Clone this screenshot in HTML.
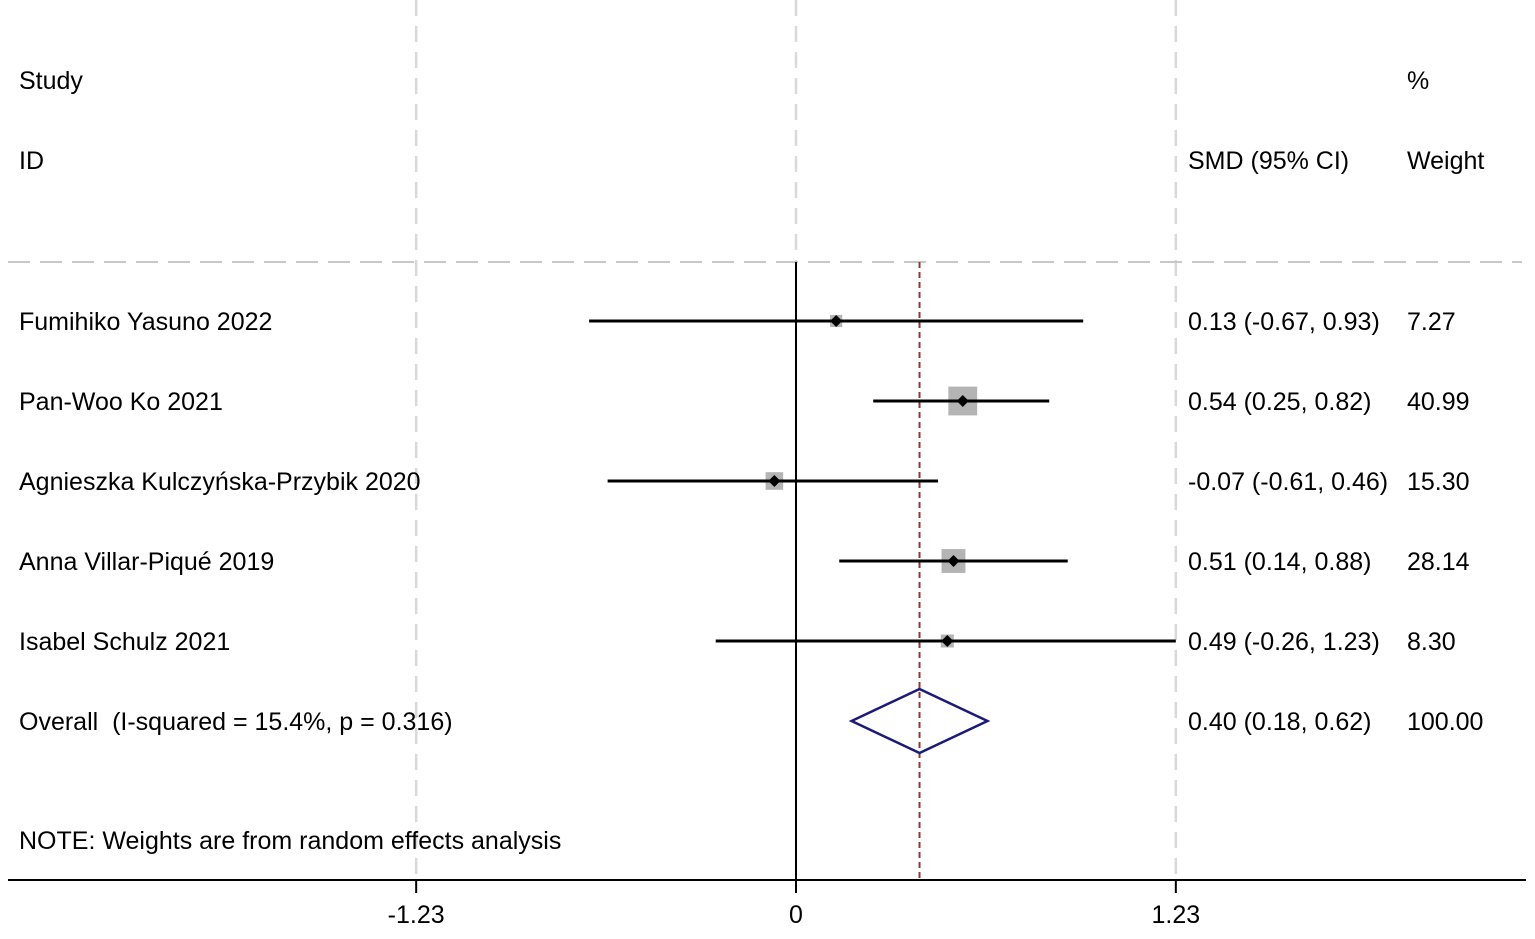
<!DOCTYPE html>
<html><head><meta charset="utf-8"><style>
html,body{margin:0;padding:0;background:#fff}
svg text{font-family:"Liberation Sans",Arial,sans-serif;font-size:25px;fill:#000}
</style></head><body>
<svg id="c" width="1535" height="934" viewBox="0 0 1535 934">
<g id="grid"></g>
<g id="marks"></g>
<g id="labels">
<text x="19" y="89">Study</text>
<text x="19" y="169">ID</text>
<text x="1188" y="169">SMD (95% CI)</text>
<text x="1407" y="89">%</text>
<text x="1407" y="169">Weight</text>
<text x="19" y="849">NOTE: Weights are from random effects analysis</text>
</g>
</svg>
<script>
const studies=["Fumihiko Yasuno 2022","Pan-Woo Ko 2021","Agnieszka Kulczyńska-Przybik 2020","Anna Villar-Piqué 2019","Isabel Schulz 2021"];
const smd=[0.13,0.54,-0.07,0.51,0.49];
const lower=[-0.67,0.25,-0.61,0.14,-0.26];
const upper=[0.93,0.82,0.46,0.88,1.23];
const weights=[7.27,40.99,15.30,28.14,8.30];
const ciText=["0.13 (-0.67, 0.93)","0.54 (0.25, 0.82)","-0.07 (-0.61, 0.46)","0.51 (0.14, 0.88)","0.49 (-0.26, 1.23)"];
const weightText=["7.27","40.99","15.30","28.14","8.30"];
const overall=[0.40,0.18,0.62];
const overallLabel="Overall  (I-squared = 15.4%, p = 0.316)";
const overallCI="0.40 (0.18, 0.62)";
const overallWeight="100.00";
const ticks=[-1.23,0,1.23];
const tickLabels=["-1.23","0","1.23"];

const NS="http://www.w3.org/2000/svg";
const X=v=>796+v*308.8;
const rowY=i=>321+i*80;
function mk(tag,attrs,parent,txt){const e=document.createElementNS(NS,tag);for(const k in attrs)e.setAttribute(k,attrs[k]);if(txt!==undefined)e.textContent=txt;document.getElementById(parent).appendChild(e);return e;}
ticks.forEach((t,i)=>{
 const l=mk('line',{x1:X(t),x2:X(t),y1:0,y2:t===0?262:880,stroke:'#d9d9d9','stroke-width':2.5,'stroke-dasharray':'16,10'},'grid');
 
 
 const tk=mk('line',{x1:X(t),x2:X(t),y1:880,y2:893,stroke:'#000','stroke-width':2},'grid');
 
 
 const tl=mk('text',{x:X(t),y:923,'text-anchor':'middle'},'labels',tickLabels[i]);
 
 
});
let h=mk('line',{x1:8,x2:1522,y1:262,y2:262,stroke:'#c8c8c8','stroke-width':2,'stroke-dasharray':'22,10'},'grid');


let ax=mk('line',{x1:8,x2:1526,y1:880,y2:880,stroke:'#000','stroke-width':2},'grid');


let z=mk('line',{x1:X(0),x2:X(0),y1:262,y2:880,stroke:'#000','stroke-width':2},'grid');


let ov=mk('line',{x1:X(overall[0]),x2:X(overall[0]),y1:262,y2:880,stroke:'#8b3a3a','stroke-width':2,'stroke-dasharray':'6,4'},'grid');


studies.forEach((s,i)=>{
 const y=rowY(i);
 const sd=4.5*Math.sqrt(weights[i]);
 const sq=mk('rect',{x:X(smd[i])-sd/2,y:y-sd/2,width:sd,height:sd,fill:'#b4b4b4'},'marks');
 
 
 const ci=mk('line',{x1:X(lower[i]),x2:X(upper[i]),y1:y,y2:y,stroke:'#000','stroke-width':3},'marks');
 
 
 const cx=X(smd[i]);
 const pt=mk('polygon',{points:`${cx},${y-6} ${cx+6},${y} ${cx},${y+6} ${cx-6},${y}`,fill:'#000'},'marks');
 
 
 const t1=mk('text',{x:19,y:y+9},'labels',s);
 
 
 const t2=mk('text',{x:1188,y:y+9},'labels',ciText[i]);
 
 
 const t3=mk('text',{x:1407,y:y+9},'labels',weightText[i]);
 
 
});
const oy=rowY(5);
const dm=mk('polygon',{points:`${X(overall[1])},${oy} ${X(overall[0])},${oy-32} ${X(overall[2])},${oy} ${X(overall[0])},${oy+32}`,fill:'none',stroke:'#1a1a7a','stroke-width':2.5},'marks');


let o1=mk('text',{x:19,y:oy+9},'labels',overallLabel);


o1.setAttribute('xml:space','preserve');o1.style.whiteSpace='pre';
let o2=mk('text',{x:1188,y:oy+9},'labels',overallCI);


let o3=mk('text',{x:1407,y:oy+9},'labels',overallWeight);


</script>
</body></html>
